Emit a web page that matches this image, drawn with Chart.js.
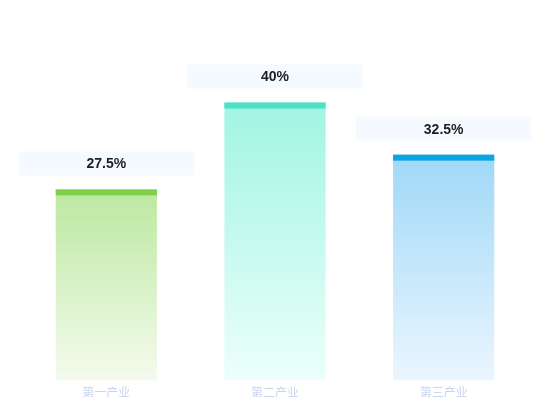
<!DOCTYPE html>
<html>
<head>
<meta charset="utf-8">
<script src="https://cdn.jsdelivr.net/npm/chart.js@4"></script>
<style>
  body { margin: 0; background: #fff; }
  #wrap { width: 550px; height: 420px; }
</style>
</head>
<body>
<div id="wrap"><canvas id="myChart"></canvas></div>
<script>
const categories = ['第一产业', '第二产业', '第三产业'];
const shares = [27.5, 40, 32.5];
const valueLabels = ['27.5%', '40%', '32.5%'];

// colours per bar: cap, gradient top, gradient bottom
const capColors = ['#7dd04a', '#4ee0c6', '#0aa5e6'];
const topColors = ['#bce8a0', '#a0f5e2', '#9fd8f7'];
const bottomColors = ['#f4fbee', '#ecfffb', '#ebf6ff'];

function barGradient(ctx) {
  const chart = ctx.chart;
  const area = chart.chartArea;
  if (!area || !chart.scales.y) return topColors[ctx.dataIndex];
  const top = chart.scales.y.getPixelForValue(shares[ctx.dataIndex]);
  const g = chart.ctx.createLinearGradient(0, top, 0, area.bottom);
  g.addColorStop(0, topColors[ctx.dataIndex]);
  g.addColorStop(1, bottomColors[ctx.dataIndex]);
  return g;
}

// cap strip on each bar + value box above it
const barDecor = {
  id: 'barDecor',
  afterDatasetsDraw(chart) {
    const ctx = chart.ctx;
    const meta = chart.getDatasetMeta(0);
    ctx.save();
    meta.data.forEach((bar, i) => {
      const w = bar.width;
      ctx.fillStyle = capColors[i];
      ctx.fillRect(bar.x - w / 2, bar.y, w, 6);

      const bw = 175, bh = 24;
      const by = bar.y - 14 - bh;
      ctx.fillStyle = 'rgba(236,246,255,0.6)';
      ctx.fillRect(bar.x - bw / 2, by, bw, bh);
      ctx.fillStyle = '#1f1f1f';
      ctx.font = 'bold 14px "Liberation Sans", Arial, sans-serif';
      ctx.textAlign = 'center';
      ctx.textBaseline = 'middle';
      ctx.fillText(valueLabels[i], bar.x, by + bh / 2 + 1);
    });
    ctx.restore();
  }
};

const myChart = new Chart(document.getElementById('myChart'), {
  type: 'bar',
  data: {
    labels: categories,
    datasets: [{
      data: shares,
      backgroundColor: barGradient,
      borderWidth: 0,
      barPercentage: 0.6,
      categoryPercentage: 1
    }]
  },
  options: {
    responsive: true,
    maintainAspectRatio: false,
    animation: false,
    layout: { padding: { left: 22, right: 22, top: 33, bottom: 23 } },
    plugins: {
      legend: { display: false },
      tooltip: { enabled: false }
    },
    scales: {
      x: {
        grid: { display: false },
        border: { display: false },
        ticks: {
          color: '#c8d6ef',
          font: { size: 12, family: '"Noto Sans CJK SC", sans-serif' },
          padding: -3
        }
      },
      y: {
        display: false,
        min: 0,
        max: 50
      }
    }
  },
  plugins: [barDecor]
});
</script>
</body>
</html>
